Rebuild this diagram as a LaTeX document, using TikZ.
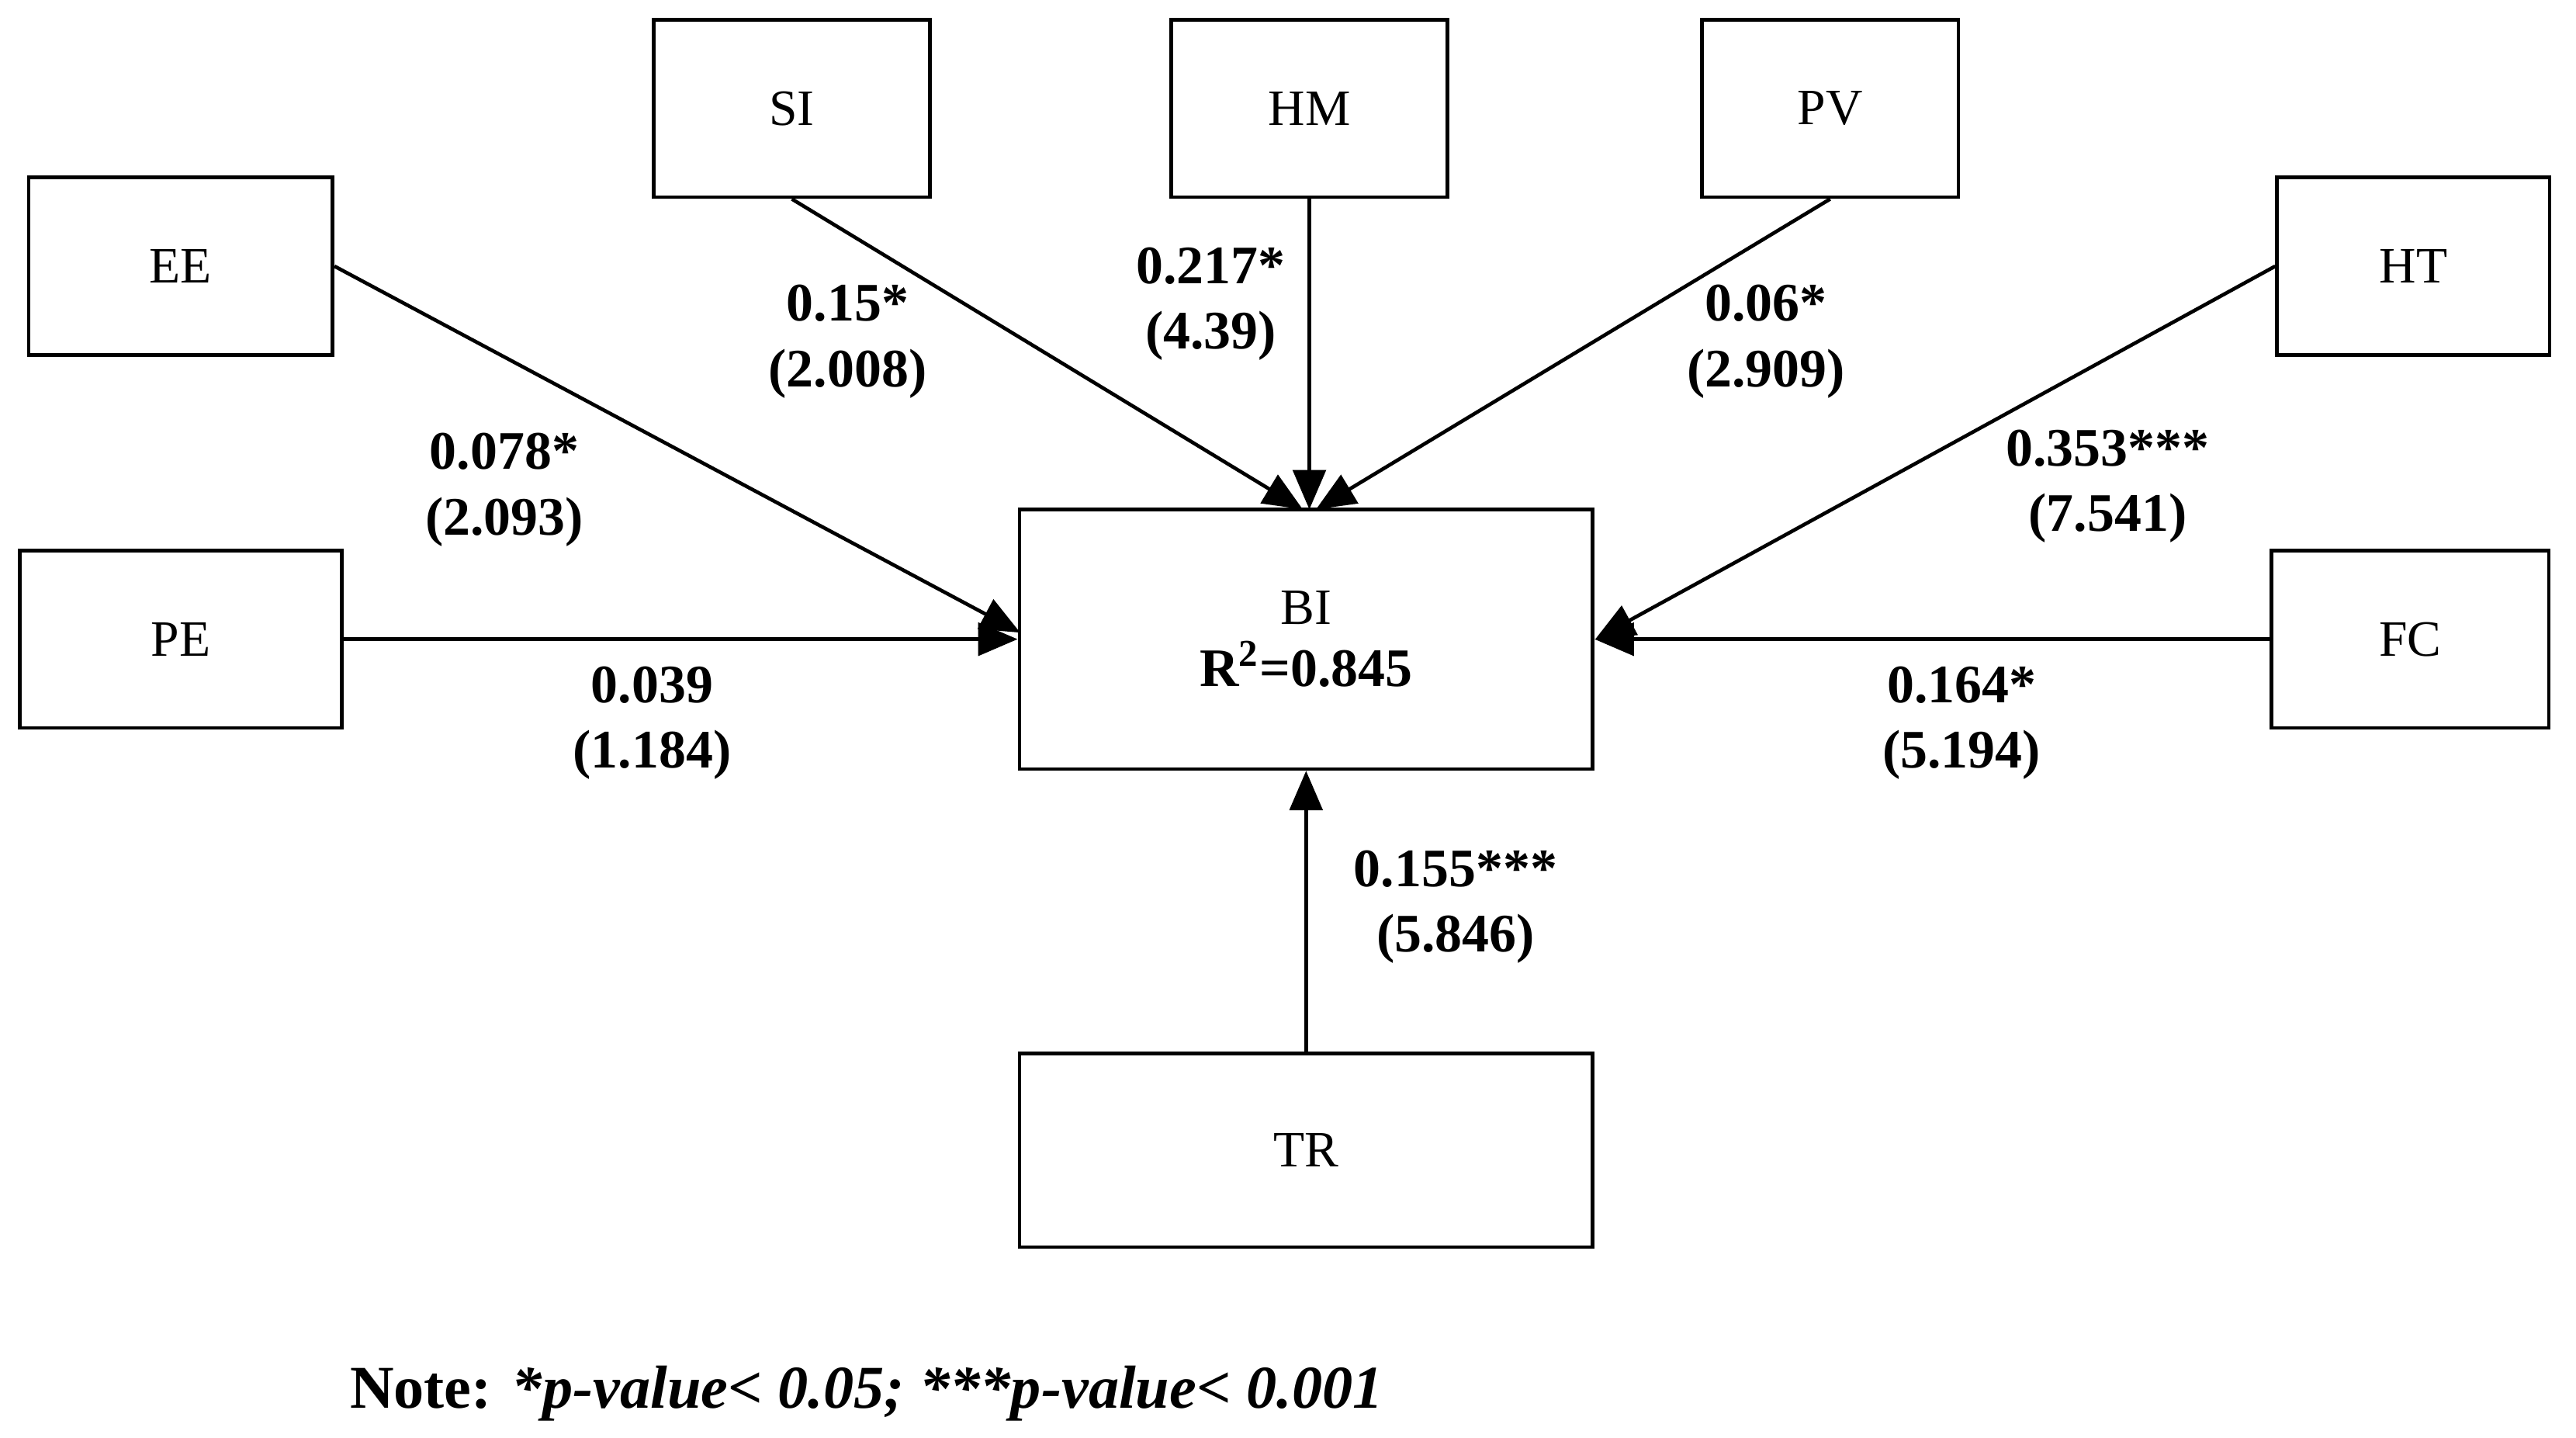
\documentclass[tikz,border=0pt]{standalone}
\usepackage{fontspec}
\setmainfont{Liberation Serif}
\usetikzlibrary{arrows.meta}
\begin{document}
\begin{tikzpicture}[x=0.5pt,y=-0.5pt,
  box/.style={draw,line width=1.1pt,inner sep=0,font=\fontsize{15.5}{18}\selectfont},
  arr/.style={line width=1.1pt,-{Triangle[length=12pt,width=10pt]}},
  lab/.style={font=\bfseries\fontsize{16.5}{20}\selectfont,align=center}]
\useasboundingbox (0,0) rectangle (1568,875);
\node[box,minimum width=92.5pt,minimum height=54pt] (EE) at (110,162) {EE};
\node[box,minimum width=98pt,minimum height=54pt] (PE) at (110,389) {PE};
\node[box,minimum width=84pt,minimum height=54pt] (SI) at (482,66) {SI};
\node[box,minimum width=84pt,minimum height=54pt] (HM) at (797,66) {HM};
\node[box,minimum width=78pt,minimum height=54pt] (PV) at (1114,66) {PV};
\node[box,minimum width=83pt,minimum height=54pt] (HT) at (1469,162) {HT};
\node[box,minimum width=84.5pt,minimum height=54pt] (FC) at (1467,389) {FC};
\node[box,minimum width=174.5pt,minimum height=79pt,align=center] (BI) at (795,389) {BI\\[1pt]\textbf{\fontsize{16.5}{18}\selectfont R\textsuperscript{2}=0.845}};
\node[box,minimum width=174.5pt,minimum height=59pt] (TR) at (795,700) {TR};
\coordinate (bEE) at (621,385);
\coordinate (bSI) at (793,310);
\coordinate (bHM) at (797,310);
\coordinate (bPV) at (801,310);
\coordinate (bHT) at (971,389);
\draw[arr] (EE.east) -- (bEE);
\draw[arr] (PE.east) -- (BI.west);
\draw[arr] (SI.south) -- (bSI);
\draw[arr] (HM.south) -- (bHM);
\draw[arr] (PV.south) -- (bPV);
\draw[arr] (HT.west) -- (bHT);
\draw[arr] (FC.west) -- (BI.east);
\draw[arr] (TR.north) -- (BI.south);
\node[lab] (l1) at (307,298) {0.078*\\(2.093)};
\node[lab] (l2) at (397,440) {0.039\\(1.184)};
\node[lab] (l3) at (516,208) {0.15*\\(2.008)};
\node[lab] (l4) at (737,185) {0.217*\\(4.39)};
\node[lab] (l5) at (1075,208) {0.06*\\(2.909)};
\node[lab] (l6) at (1283,296) {0.353***\\(7.541)};
\node[lab] (l7) at (1194,440) {0.164*\\(5.194)};
\node[lab] (l8) at (886,552) {0.155***\\(5.846)};
\node[font=\bfseries\fontsize{18.5}{22}\selectfont,anchor=west] (note) at (206,848) {Note: \textit{*p-value< 0.05; ***p-value< 0.001}};
\end{tikzpicture}
\end{document}
